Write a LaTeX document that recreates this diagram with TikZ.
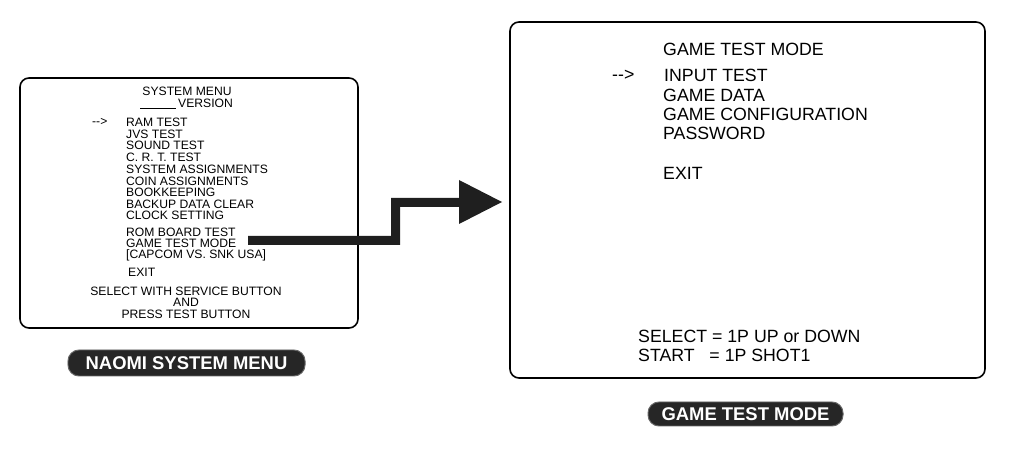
\documentclass[tikz,border=0pt]{standalone}
\usepackage{fontspec}
\setmainfont{Liberation Sans}
\begin{document}
\begin{tikzpicture}[x=1bp,y=-1bp,
 screen/.style={draw=black,line width=1.6pt,rounded corners=9bp},
 small/.style={font=\fontsize{12.2}{13}\selectfont,inner sep=0pt,anchor=west},
 big/.style={font=\fontsize{17.8}{19}\selectfont,inner sep=0pt,anchor=west},
 pill/.style={fill=black!85,draw=black!60,line width=1pt,rounded corners=11bp,text=white,font=\bfseries\fontsize{18.5}{19}\selectfont,inner sep=0pt}]
\useasboundingbox (0,0) rectangle (1010,458);
\draw[screen] (20,78) rectangle (358,328);
\node[small,anchor=center] (t1) at (187,91) {SYSTEM MENU};
\node[small] (t2) at (178,103) {VERSION};
\draw[line width=0.8pt] (140,108) -- (176,108);
\node[small] (ar) at (92,122) {-{}->};
\foreach \t/\y [count=\i] in {RAM TEST/122,JVS TEST/134,SOUND TEST/145,C. R. T. TEST/157,SYSTEM ASSIGNMENTS/169,COIN ASSIGNMENTS/181,BOOKKEEPING/192,BACKUP DATA CLEAR/204,CLOCK SETTING/215,ROM BOARD TEST/232,GAME TEST MODE/243,{[CAPCOM VS. SNK  USA]}/255}
  \node[small] (m\i) at (126,\y) {\t};
\node[small] (ex) at (128,272) {EXIT};
\node[small,anchor=center] (s1) at (186,291) {SELECT WITH SERVICE BUTTON};
\node[small,anchor=center] (s2) at (186,302) {AND};
\node[small,anchor=center] (s3) at (186,314) {PRESS TEST BUTTON};
\node[pill,minimum width=237bp,minimum height=26bp] (l1) at (186.5,363) {NAOMI SYSTEM MENU};

\draw[screen] (510,22) rectangle (985,378);
\node[big] (g0) at (663,49) {GAME TEST MODE};
\node[big] (gar) at (612,75) {-{}->};
\node[big] (g1) at (664,75) {INPUT TEST};
\node[big] (g2) at (663,95) {GAME DATA};
\node[big] (g3) at (663,114) {GAME CONFIGURATION};
\node[big] (g4) at (663,133) {PASSWORD};
\node[big] (g5) at (663,173) {EXIT};
\node[big] (h1) at (638,336) {SELECT = 1P UP or DOWN};
\node[big] (h2) at (638,355) {START\ \ \ = 1P SHOT1};
\node[pill,minimum width=195bp,minimum height=24bp] (l2) at (745.5,414) {GAME TEST MODE};

\fill[black!88] (248,236) -- (391,236) -- (391,198) -- (459,198) -- (459,180) -- (502,202) -- (459,224) -- (459,207) -- (400,207) -- (400,245) -- (248,245) -- cycle;
\end{tikzpicture}
\end{document}
